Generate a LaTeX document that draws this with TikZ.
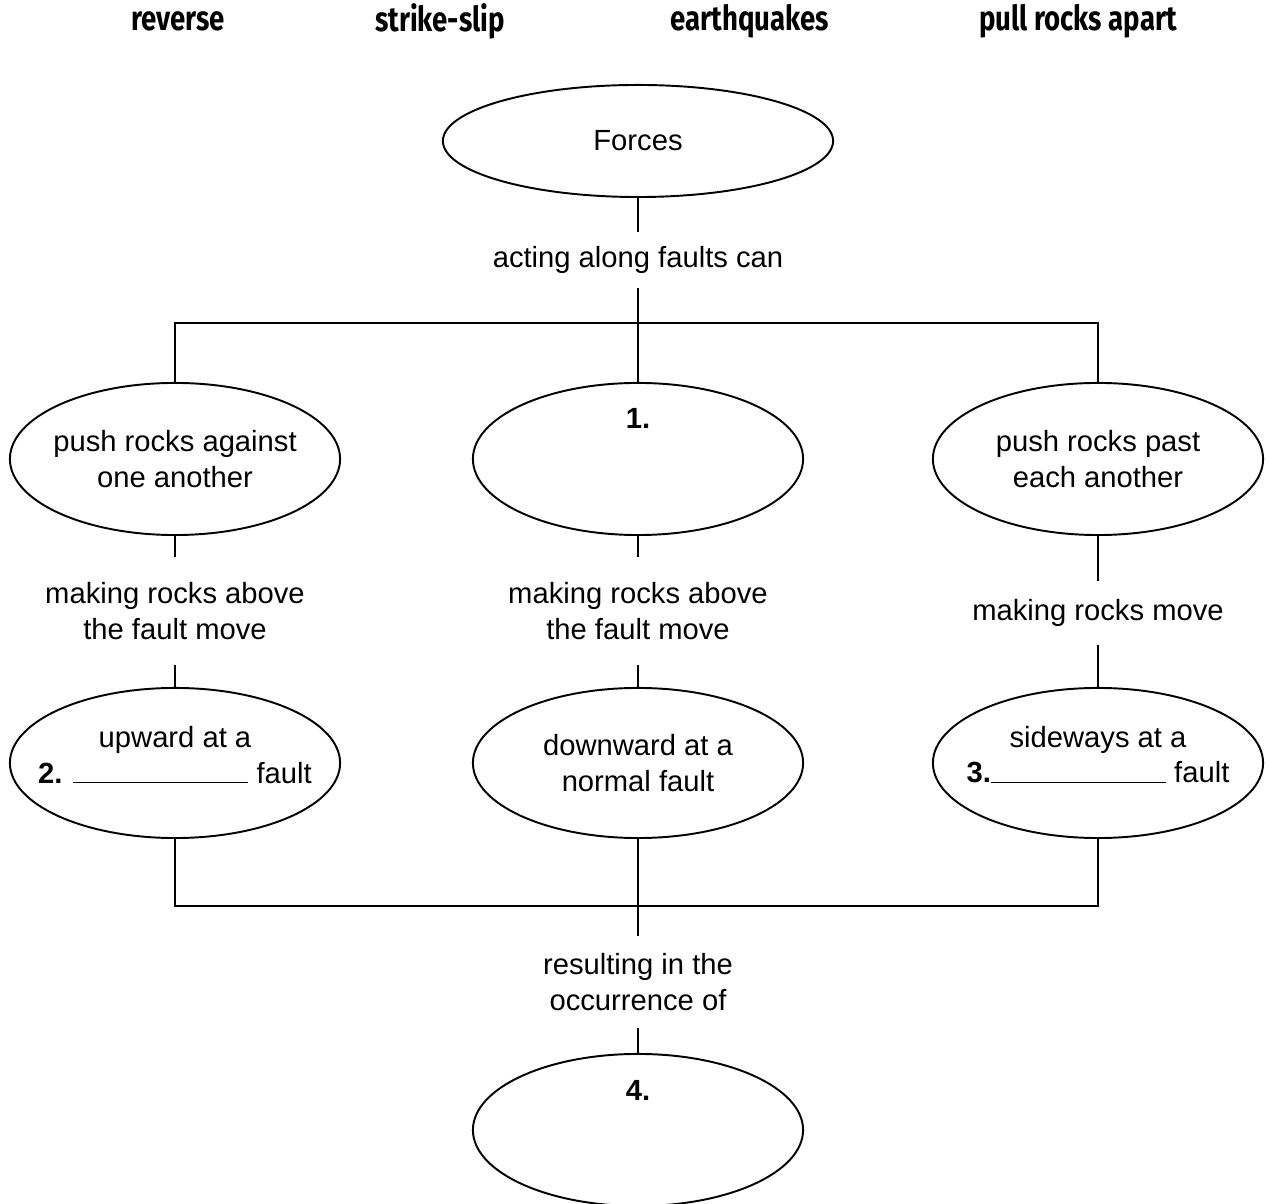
\documentclass[tikz,border=0pt]{standalone}
\usepackage{fontspec}
\setmainfont{Liberation Sans}
\newfontfamily\bankfont{Fira Sans}[FakeStretch=0.8]
\usepackage{tikz}
\usetikzlibrary{shapes.geometric}

\tikzset{
    oval/.style={draw, ellipse, inner sep=0pt, minimum width=3.3cm, minimum height=1.52cm, line width=0.55pt},
    ovaltext/.style={align=center, inner sep=0pt, font=\fontsize{8.3}{10}\selectfont},
    linktext/.style={align=center, inner xsep=0pt, inner ysep=0.14cm, font=\fontsize{8.3}{10}\selectfont},
    bankword/.style={font=\bankfont\bfseries\fontsize{9.8}{11}\selectfont},
    link/.style={line width=0.55pt}
}

\begin{document}
\begin{tikzpicture}[x=0.01cm, y=-0.01cm]
    \useasboundingbox (0,0) rectangle (1269,1204);
    % word bank
    \node[bankword] (w1) at (178,21) {reverse};
    \node[bankword] (w2) at (440,21) {strike-slip};
    \node[bankword] (w3) at (750,21) {earthquakes};
    \node[bankword] (w4) at (1078,21) {pull rocks apart};
    % ovals
    \node[oval, minimum width=3.9cm, minimum height=1.12cm] (forces) at (638,141) {};
    \node[oval] (against) at (175,459) {};
    \node[oval] (blank1) at (638,459) {};
    \node[oval] (past) at (1098,459) {};
    \node[oval, minimum height=1.5cm] (upward) at (175,763) {};
    \node[oval, minimum height=1.5cm] (downward) at (638,763) {};
    \node[oval, minimum height=1.5cm] (sideways) at (1098,763) {};
    \node[oval] (quakes) at (638,1130) {};
    % texts in the ovals
    \node[ovaltext] at (forces) {Forces};
    \node[ovaltext] at (against) {push rocks against\\one another};
    \node[ovaltext] at (638,418) {\textbf{1.}};
    \node[ovaltext] at (past) {push rocks past\\each another};
    \node[ovaltext] at (175,755) {upward at a\\\textbf{2.} \rule{1.75cm}{0.4pt} fault};
    \node[ovaltext] at (downward) {downward at a\\normal fault};
    \node[ovaltext] at (1098,755) {sideways at a\\\textbf{3.}\rule{1.75cm}{0.4pt} fault};
    \node[ovaltext] at (638,1090) {\textbf{4.}};
    % linking words
    \node[linktext] (acting) at (638,260) {acting along faults can};
    \node[linktext, inner ysep=0.25cm] (mk1) at (175,611) {making rocks above\\the fault move};
    \node[linktext, inner ysep=0.25cm] (mk2) at (638,611) {making rocks above\\the fault move};
    \node[linktext, inner ysep=0.18cm] (mk3) at (1098,613) {making rocks move};
    \node[linktext, inner ysep=0.17cm] (result) at (638,982) {resulting in the\\occurrence of};
    \coordinate (split) at (638,323);
    \coordinate (join) at (638,906);
    % connectors
    \draw[link] (forces.south) -- (acting.north);
    \draw[link] (acting.south) -- (blank1.north);
    \draw[link] (against.north) |- (split) -| (past.north);
    \draw[link] (against.south) -- (mk1.north);
    \draw[link] (mk1.south) -- (upward.north);
    \draw[link] (blank1.south) -- (mk2.north);
    \draw[link] (mk2.south) -- (downward.north);
    \draw[link] (past.south) -- (mk3.north);
    \draw[link] (mk3.south) -- (sideways.north);
    \draw[link] (upward.south) |- (join) -| (sideways.south);
    \draw[link] (downward.south) -- (result.north);
    \draw[link] (result.south) -- (quakes.north);
\end{tikzpicture}
\end{document}
